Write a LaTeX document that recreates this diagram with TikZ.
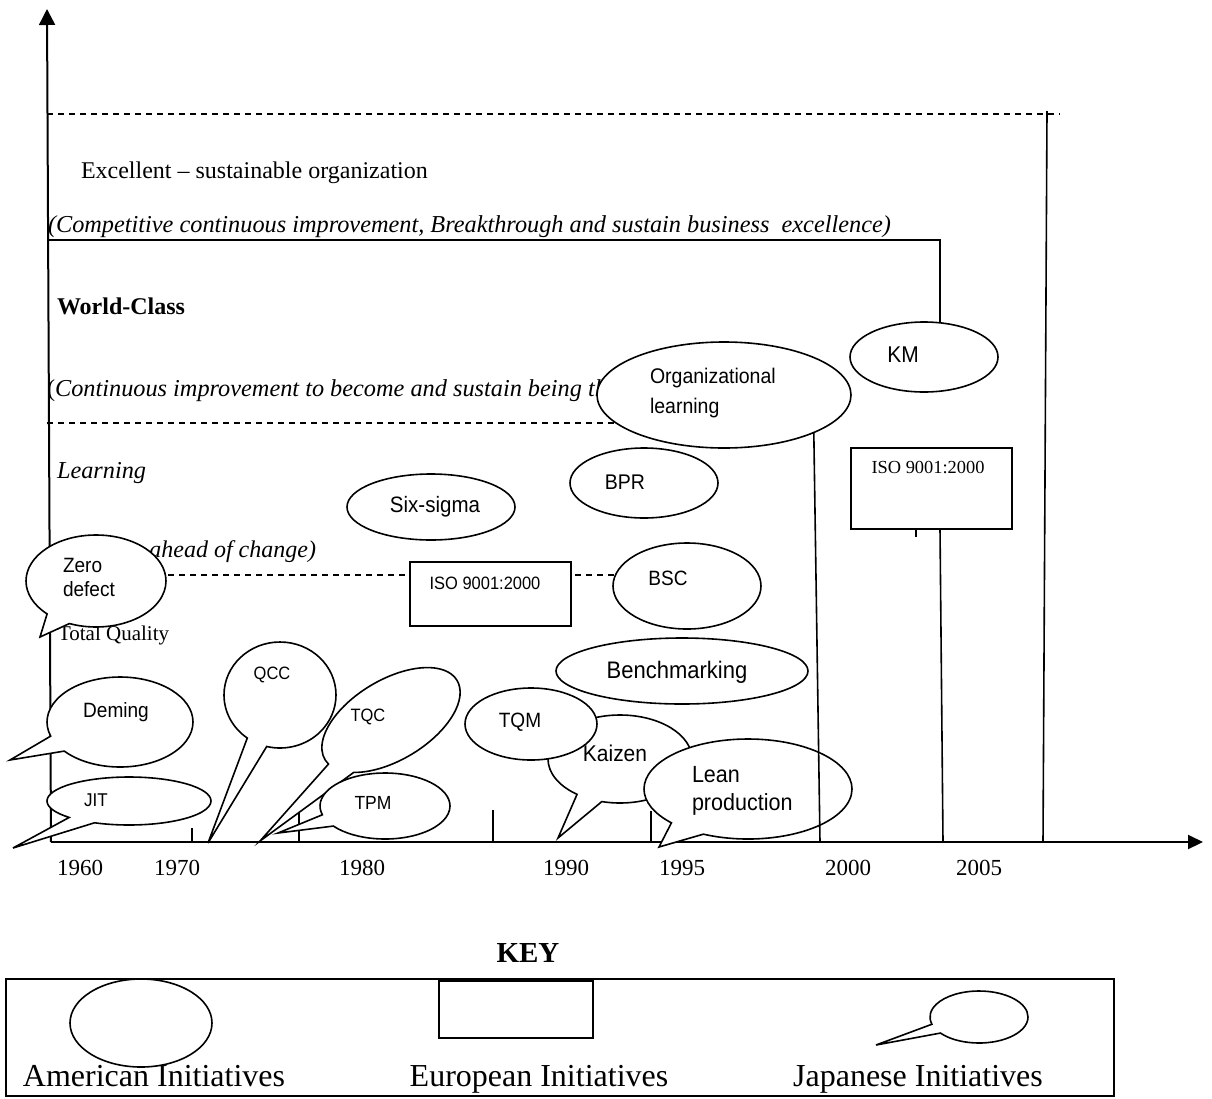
\documentclass[tikz,border=0pt]{standalone}
\usepackage{fontspec}
\setmainfont{Liberation Serif}
\setsansfont{Liberation Sans}[FakeStretch=0.92]
\usetikzlibrary{shapes.geometric,shapes.callouts,arrows.meta,calc}

\newcommand{\sz}[2]{\fontsize{#1}{#2}\selectfont}

\tikzset{
  every node/.style={inner sep=0pt, outer sep=0pt},
  rule/.style={line width=1.6pt},
  axis/.style={line width=2pt},
  guide/.style={dash pattern=on 6pt off 5pt, line width=1.4pt},
  am/.style={draw, ellipse, fill=white, rule},
  eu/.style={draw, rectangle, fill=white, rule},
  jp/.style={draw, ellipse callout, fill=white, rule, callout pointer arc=22},
  lvl/.style={anchor=base west, font=\sz{24}{28}},
  lvlit/.style={anchor=base west, font=\sz{24.3}{28}\itshape},
  yr/.style={anchor=base, font=\sz{23}{27}},
  tag/.style={align=left, font=\sffamily\sz{20.7}{24}},
  keytxt/.style={anchor=base, font=\sz{32}{36}},
}

\begin{document}
\begin{tikzpicture}[x=1pt, y=-1pt]
\useasboundingbox (0,0) rectangle (1212,1098);

\coordinate (O) at (51,842);
\coordinate (ytop) at (47,9);
\coordinate (xend) at (1203,842);

% level boundaries
\draw[guide] (47,114) -- (1060,114);
\draw[guide] (47,423) -- (640,423);
\draw[guide] (47,575) -- (640,575);
\draw[rule] (47,240) -- (940,240) -- (940,330);
\draw[rule] (1047,111) -- (1043,842);
\draw[rule] (940,529) -- (943,842);
\draw[rule] (916,529) -- (916,537);

% level labels
\node[lvl] (lexc) at (81,178) {Excellent – sustainable organization};
\node[lvlit] (lexcd) at (48,232) {(Competitive continuous improvement, Breakthrough and sustain business\ \ excellence)};
\node[lvl, font=\sz{24}{28}\bfseries] (lwc) at (57,314) {World-Class};
\node[lvl, font=\sz{24.3}{28}] (lwcd) at (47,396) {(\textit{Continuous improvement to become and sustain being the best)}};
\node[lvlit] (llearn) at (57,478) {Learning};
\node[anchor=base east, font=\sz{24}{28}\itshape] (llearnd) at (316,557) {ahead of change)};
\node[anchor=base west, font=\sz{21}{25}] (ltq) at (58,640) {Total Quality};

% axes
\draw[axis, -{Triangle[length=16pt, width=16pt]}] (O) -- (ytop);
\draw[axis, -{Triangle[length=15pt, width=14pt]}] (O) -- (xend);
\draw[rule] (192,828) -- (192,842);
\draw[rule] (299,812) -- (299,842);
\draw[rule] (493,810) -- (493,842);
\draw[rule] (651,811) -- (651,842);

\node[yr] (y1960) at (80,875) {1960};
\node[yr] (y1970) at (177,875) {1970};
\node[yr] (y1980) at (362,875) {1980};
\node[yr] (y1990) at (566,875) {1990};
\node[yr] (y1995) at (682,875) {1995};
\node[yr] (y2000) at (848,875) {2000};
\node[yr] (y2005) at (979,875) {2005};

% initiatives
\node[am, minimum width=168pt, minimum height=66pt] (six) at (431,507) {};
\node[am, minimum width=148pt, minimum height=70pt] (bpr) at (644,483) {};
\node[am, minimum width=254pt, minimum height=106pt] (orgl) at (724,395) {};
\node[am, minimum width=148pt, minimum height=70pt] (km) at (924,357) {};
\node[eu, minimum width=161pt, minimum height=81pt] (iso2) at (931.5,488.5) {};
\node[eu, minimum width=161pt, minimum height=64pt] (iso1) at (490.5,594) {};
\node[am, minimum width=148pt, minimum height=86pt] (bsc) at (687,586) {};
\node[am, minimum width=252pt, minimum height=66pt] (bench) at (682,671) {};
\node[jp, minimum width=144pt, minimum height=88pt, callout absolute pointer={(558,838)}] (kaizen) at (620,759) {};
\node[am, minimum width=132pt, minimum height=72pt] (tqm) at (531,724) {};
\node[jp, minimum width=208pt, minimum height=100pt, callout absolute pointer={(659,847)}] (lean) at (748,789) {};
\node[jp, minimum width=112pt, minimum height=106pt, callout absolute pointer={(208,843)}] (qcc) at (280,695) {};

% tilted TQC bubble
\coordinate (tqc) at (391,720);
\coordinate (tqctip) at (260,841);
\begin{scope}[shift={(tqc)}, rotate=31]
  \draw[rule, fill=white] (220:77pt and 40pt)
    arc[start angle=220, end angle=548, x radius=77pt, y radius=40pt]
    -- (tqctip) -- cycle;
\end{scope}

\node[jp, minimum width=130pt, minimum height=66pt, callout absolute pointer={(278,833)}] (tpm) at (385,806) {};
\node[jp, minimum width=140pt, minimum height=92pt, callout absolute pointer={(40,637)}] (zero) at (96,581) {};
\node[jp, minimum width=146pt, minimum height=90pt, callout absolute pointer={(10,760)}] (deming) at (120,722) {};
\node[jp, minimum width=164pt, minimum height=48pt, callout absolute pointer={(13,848)}] (jit) at (129,801) {};

\coordinate (y2000foot) at (820,842);
\draw[rule] (orgl.south east) -- (y2000foot);

% initiative names
\node[tag, font=\sffamily\sz{22.3}{26}] (tsix) at (435,507) {Six-sigma};
\node[tag, font=\sffamily\sz{21.2}{25}] (tbpr) at (625,482) {BPR};
\node[tag, anchor=west, font=\sffamily\sz{21.2}{30}] (torgl) at (650,393) {Organizational\\learning};
\node[tag, font=\sffamily\sz{22.8}{26}] (tkm) at (903,355) {KM};
\node[tag, font=\sffamily\sz{17.9}{21}] (tiso1) at (485,583) {ISO 9001:2000};
\node[font=\sz{18.4}{22}] (tiso2) at (928,468) {ISO 9001:2000};
\node[tag] (tbsc) at (668,578) {BSC};
\node[tag, font=\sffamily\sz{23.9}{28}] (tbench) at (677,672) {Benchmarking};
\node[tag, font=\sffamily\sz{22.8}{26}] (tkaizen) at (615,753) {Kaizen};
\node[tag] (ttqm) at (520,722) {TQM};
\node[tag, anchor=west, font=\sffamily\sz{23.4}{28}] (tlean) at (692,791) {Lean\\production};
\node[tag, font=\sffamily\sz{17.9}{21}] (tqcc) at (272,675) {QCC};
\node[tag, font=\sffamily\sz{17.9}{21}] (ttqc) at (368,717) {TQC};
\node[tag, font=\sffamily\sz{19}{22}] (ttpm) at (373,803) {TPM};
\node[tag, anchor=west, font=\sffamily\sz{20.7}{24}] (tzero) at (63,577) {Zero\\defect};
\node[tag] (tdeming) at (116,712) {Deming};
\node[tag, font=\sffamily\sz{18.5}{22}] (tjit) at (96,800) {JIT};

% key
\node[font=\bfseries\sz{29}{33}] (keyt) at (528,953) {KEY};
\node[draw, rule, minimum width=1108pt, minimum height=117pt] (keybox) at (560,1037.5) {};
\node[am, minimum width=142pt, minimum height=88pt] (kam) at (141,1023) {};
\node[eu, minimum width=154pt, minimum height=57pt] (keu) at (516,1009.5) {};
\node[jp, minimum width=98pt, minimum height=52pt, callout absolute pointer={(876,1045)}] (kjp) at (979,1017) {};
\node[keytxt] (kamt) at (154,1086) {American Initiatives};
\node[keytxt] (keut) at (539,1086) {European Initiatives};
\node[keytxt] (kjpt) at (918,1086) {Japanese Initiatives};
\end{tikzpicture}
\end{document}
